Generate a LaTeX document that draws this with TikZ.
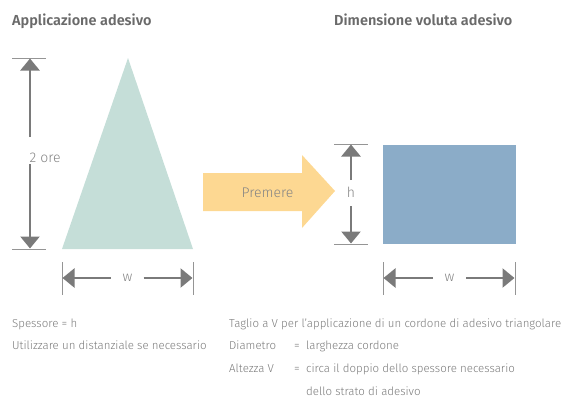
\documentclass[tikz,border=0pt]{standalone}
\usepackage{fontspec}
\setmainfont{Fira Sans}[UprightFont={* Light}, BoldFont={* SemiBold}]
\usetikzlibrary{arrows.meta}
\definecolor{txt}{HTML}{7A7A7A}
\definecolor{ttl}{HTML}{6A6A6A}
\definecolor{dim}{HTML}{7A7A7A}
\definecolor{lbl}{HTML}{858585}
\definecolor{tri}{HTML}{C5DED8}
\definecolor{yel}{HTML}{FDD892}
\definecolor{blu}{HTML}{8BACC8}
\tikzset{
  title/.style={font=\bfseries\fontsize{14.5}{16}\selectfont, text=ttl, anchor=base west, inner sep=0pt},
  body/.style={font=\fontsize{11.5}{13}\selectfont, text=txt, anchor=base west, inner sep=0pt},
  dimtxt/.style={font=\fontsize{14}{16}\selectfont, text=lbl, inner sep=0pt},
  dimarrow/.style={draw=dim, line width=2.4pt, -{Triangle[length=12pt,width=19pt]}},
  tick/.style={draw=dim!80, line width=0.9pt}
}
\begin{document}
\begin{tikzpicture}[x=1pt,y=-1pt]
\useasboundingbox (0,0) rectangle (571,399);
% titles
\node[title] (t1) at (12,25.5) {Applicazione adesivo};
\node[title] (t2) at (334,25.5) {Dimensione voluta adesivo};
% triangle
\fill[tri] (128,58) -- (193,249) -- (62,249) -- cycle;
% left vertical dimension
\draw[tick] (12,58) -- (46,58);
\draw[tick] (12,249) -- (46,249);
\coordinate (vTop) at (30,58.5);
\coordinate (vBot) at (30,248.5);
\node[dimtxt, anchor=base west] (ore) at (29.5,162) {2 ore};
\coordinate (vA) at (30,137);
\coordinate (vB) at (30,164);
\draw[dimarrow] (vA) -- (vTop);
\draw[dimarrow] (vB) -- (vBot);
% bottom w left
\draw[tick] (62,262) -- (62,295);
\draw[tick] (193,262) -- (193,295);
\node[dimtxt] (w1) at (127.5,278) {w};
\coordinate (w1L) at (62.5,278);
\coordinate (w1R) at (192.5,278);
\draw[dimarrow] ([xshift=-17pt]w1.center) -- (w1L);
\draw[dimarrow] ([xshift=16pt]w1.center) -- (w1R);
% yellow arrow
\fill[yel] (203,173) -- (302,173) -- (302,155) -- (335,191) -- (302,228) -- (302,211) -- (203,211) -- cycle;
\node[dimtxt, anchor=base] (prem) at (267.5,197) {Premere};
% h dimension
\draw[tick] (334,144) -- (368,144);
\draw[tick] (334,244) -- (368,244);
\node[dimtxt] (h) at (351,192.5) {h};
\coordinate (hT) at (351,144.5);
\coordinate (hB) at (351,243.5);
\draw[dimarrow] ([yshift=12.5pt]h.center) -- (hT);
\draw[dimarrow] ([yshift=-13.5pt]h.center) -- (hB);
% blue rectangle
\fill[blu] (383,145) rectangle (516,244);
% bottom w right
\draw[tick] (383,262) -- (383,295);
\draw[tick] (515,262) -- (515,295);
\node[dimtxt] (w2) at (449.5,278) {w};
\coordinate (w2L) at (383.5,278);
\coordinate (w2R) at (514.5,278);
\draw[dimarrow] ([xshift=-16.5pt]w2.center) -- (w2L);
\draw[dimarrow] ([xshift=16.5pt]w2.center) -- (w2R);
% bottom texts
\node[body] (s1) at (12,327) {Spessore = h};
\node[body] (s2) at (12,349.5) {Utilizzare un distanziale se necessario};
\node[body] (r1) at (229,327) {Taglio a V per l'applicazione di un cordone di adesivo triangolare};
\node[body] (r2) at (229,349.5) {Diametro};
\node[body] (e2) at (294,349.5) {=};
\node[body] (r2b) at (306,349.5) {larghezza cordone};
\node[body] (r3) at (229,372.5) {Altezza V};
\node[body] (e3) at (294,372.5) {=};
\node[body] (r3b) at (306,372.5) {circa il doppio dello spessore necessario};
\node[body] (r4) at (306,395.5) {dello strato di adesivo};
\end{tikzpicture}
\end{document}
